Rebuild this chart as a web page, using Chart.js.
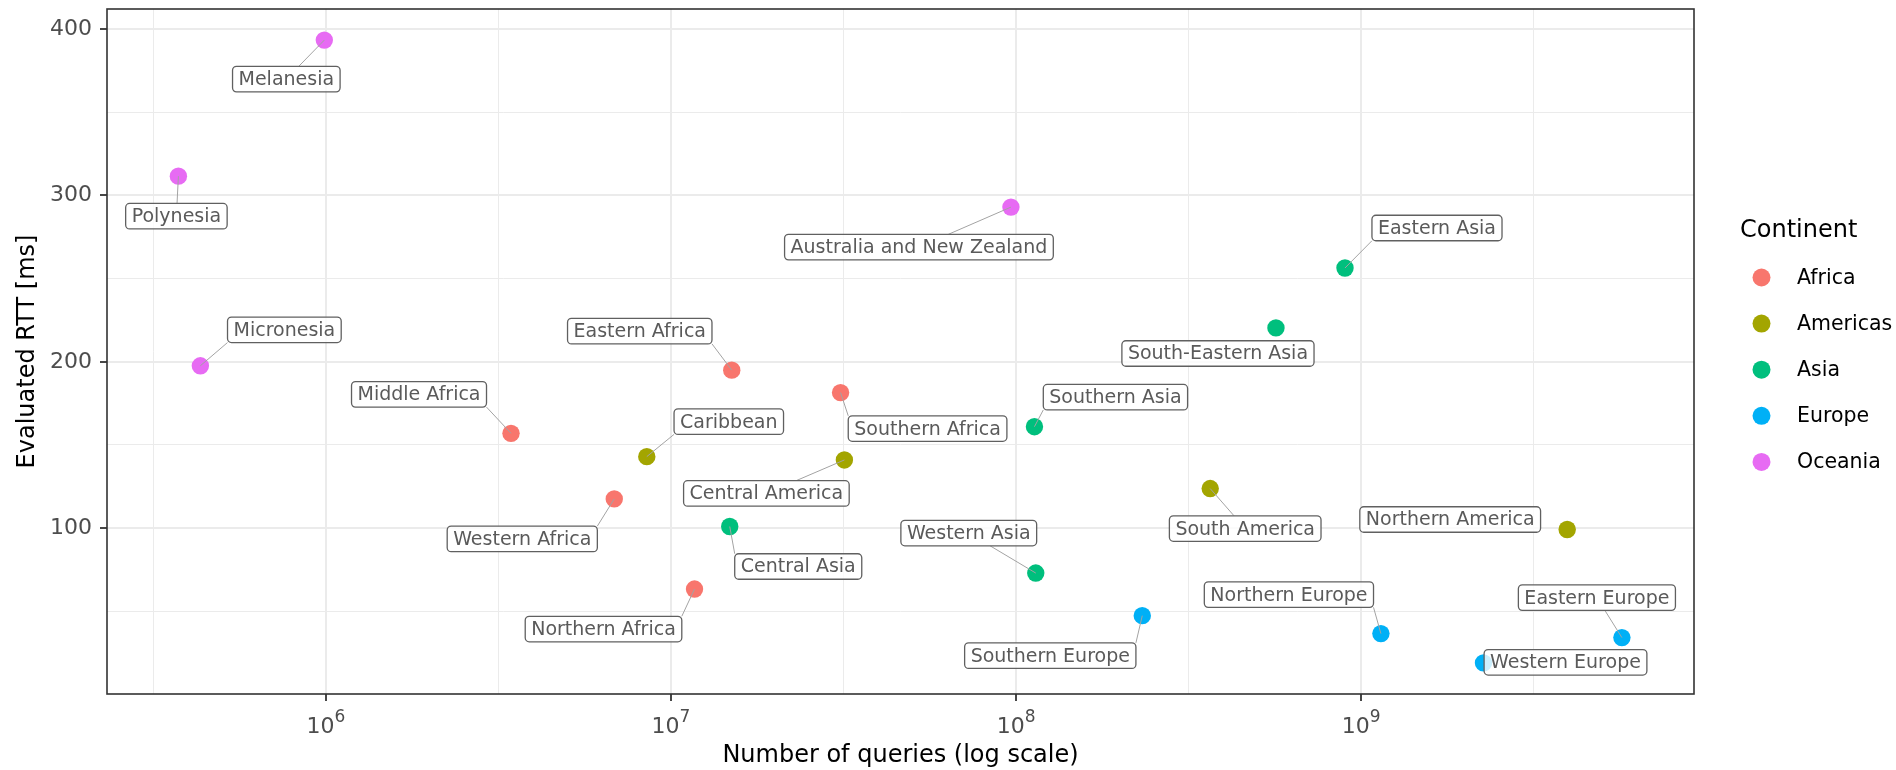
<!DOCTYPE html>
<html>
<head>
<meta charset="utf-8">
<script src="https://cdn.jsdelivr.net/npm/chart.js@4.4.1/dist/chart.umd.min.js"></script>
<style>
  html, body { margin: 0; padding: 0; background: #fff; }
  #chart { display: block; }
</style>
</head>
<body>
<canvas id="chart" width="1896" height="770"></canvas>
<script>
// =====================
// Data
// =====================
const continents = ['Africa', 'Americas', 'Asia', 'Europe', 'Oceania'];
const continentColors = ['#F8766D', '#A3A500', '#00BF7D', '#00B0F6', '#E76BF3'];

const regions = [
  'Eastern Africa', 'Middle Africa', 'Northern Africa', 'Southern Africa', 'Western Africa',
  'Caribbean', 'Central America', 'Northern America', 'South America',
  'Central Asia', 'Eastern Asia', 'South-Eastern Asia', 'Southern Asia', 'Western Asia',
  'Eastern Europe', 'Northern Europe', 'Southern Europe', 'Western Europe',
  'Australia and New Zealand', 'Melanesia', 'Micronesia', 'Polynesia'
];
const regionContinent = [
  'Africa', 'Africa', 'Africa', 'Africa', 'Africa',
  'Americas', 'Americas', 'Americas', 'Americas',
  'Asia', 'Asia', 'Asia', 'Asia', 'Asia',
  'Europe', 'Europe', 'Europe', 'Europe',
  'Oceania', 'Oceania', 'Oceania', 'Oceania'
];
const queries = [
  1.50e7, 3.44e6, 1.17e7, 3.10e7, 6.85e6,
  8.51e6, 3.18e7, 3.95e9, 3.65e8,
  1.48e7, 8.97e8, 5.66e8, 1.13e8, 1.14e8,
  5.69e9, 1.14e9, 2.32e8, 2.26e9,
  9.66e7, 9.9e5, 4.33e5, 3.74e5
];
const rttMs = [
  195, 157, 63.4, 181.5, 117.6,
  143, 141, 99.2, 123.8,
  101, 256.4, 220.4, 161, 73,
  34.2, 36.6, 47.4, 19,
  293, 393.4, 197.6, 311.6
];

const xTickValues = [1e6, 1e7, 1e8, 1e9];
const yTickValues = [100, 200, 300, 400];

// label placement (pixel offset of label centre from its point), like ggrepel output
const labelOffsets = [
  [-92, -39], [-92, -39], [-91, 40], [87, 36], [-92, 40],
  [82, -35], [-78, 33.5], [-117, -10], [35, 40],
  [68.5, 40], [92, -40], [-58, 25.6], [81, -29.5], [-67, -40],
  [-25, -40], [-92, -39], [-92, 40], [82, -0.6],
  [-92, 40], [-38, 39], [84, -36], [-2, 40]
];
const noSegment = ['Northern America', 'South-Eastern Asia', 'Western Europe'];

const FONT = "'DejaVu Sans', sans-serif";

const datasets = continents.map((c, ci) => ({
  label: c,
  data: regions
    .map((r, i) => ({ x: queries[i], y: rttMs[i], c: regionContinent[i] }))
    .filter(p => p.c === c),
  backgroundColor: continentColors[ci],
  borderWidth: 0,
  pointRadius: 8.7,
  pointHoverRadius: 8.7
}));

// where the repel segment meets the label box
function segmentEnd(px, py, cx, cy, hw, hh) {
  const dx = px - cx, dy = py - cy;
  if (Math.abs(dx) <= hw) {
    // along the line to the label centre
    const t = Math.min(hw / Math.max(Math.abs(dx), 1e-6), hh / Math.max(Math.abs(dy), 1e-6));
    return [cx + dx * t, cy + dy * t];
  }
  // nearest point of the box
  return [
    Math.min(Math.max(px, cx - hw), cx + hw),
    Math.min(Math.max(py, cy - hh), cy + hh)
  ];
}

// =====================
// Plugin: panel, labels, legend, x tick labels
// =====================
const decorations = {
  id: 'decorations',
  afterDatasetsDraw(chart) {
    const ctx = chart.ctx;
    const xs = chart.scales.x, ys = chart.scales.y;
    ctx.save();
    ctx.font = `19px ${FONT}`;
    regions.forEach((name, i) => {
      const px = xs.getPixelForValue(queries[i]);
      const py = ys.getPixelForValue(rttMs[i]);
      const [dx, dy] = labelOffsets[i];
      const cx = px + dx, cy = py + dy;
      const w = ctx.measureText(name).width + 12;
      const h = 25.5;
      if (!noSegment.includes(name)) {
        const [ex, ey] = segmentEnd(px, py, cx, cy, w / 2, h / 2);
        ctx.beginPath();
        ctx.moveTo(px, py);
        ctx.lineTo(ex, ey);
        ctx.strokeStyle = '#a3a3a3';
        ctx.lineWidth = 1;
        ctx.stroke();
      }
      ctx.beginPath();
      ctx.roundRect(cx - w / 2, cy - h / 2, w, h, 4);
      ctx.fillStyle = 'rgba(255,255,255,0.8)';
      ctx.fill();
      ctx.strokeStyle = '#606060';
      ctx.lineWidth = 1.3;
      ctx.stroke();
      ctx.fillStyle = '#5a5a5a';
      ctx.textAlign = 'center';
      ctx.textBaseline = 'middle';
      ctx.fillText(name, cx, cy + 1);
    });
    ctx.restore();
  },
  afterDraw(chart) {
    const ctx = chart.ctx;
    const area = chart.chartArea;
    const xs = chart.scales.x;
    ctx.save();

    // panel border
    ctx.strokeStyle = '#333333';
    ctx.lineWidth = 1.6;
    ctx.strokeRect(area.left, area.top, area.right - area.left, area.bottom - area.top);

    // x tick labels as 10^n
    ctx.fillStyle = '#4d4d4d';
    ctx.textBaseline = 'alphabetic';
    ctx.textAlign = 'left';
    xTickValues.forEach(v => {
      const x = xs.getPixelForValue(v);
      const exp = String(Math.round(Math.log10(v)));
      ctx.font = `22px ${FONT}`;
      const wb = ctx.measureText('10').width;
      ctx.font = `17px ${FONT}`;
      const we = ctx.measureText(exp).width;
      const left = x - (wb + we) / 2;
      ctx.font = `22px ${FONT}`;
      ctx.fillText('10', left, area.bottom + 39);
      ctx.font = `17px ${FONT}`;
      ctx.fillText(exp, left + wb, area.bottom + 28);
    });

    // legend
    const lx = area.right + 46;
    ctx.fillStyle = '#000';
    ctx.textBaseline = 'middle';
    ctx.font = `24px ${FONT}`;
    ctx.fillText('Continent', lx, 231);
    ctx.font = `20.5px ${FONT}`;
    continents.forEach((c, i) => {
      const y = 277.5 + i * 46.1;
      ctx.beginPath();
      ctx.arc(lx + 21.5, y, 9, 0, Math.PI * 2);
      ctx.fillStyle = continentColors[i];
      ctx.fill();
      ctx.fillStyle = '#000';
      ctx.fillText(c, lx + 57, y + 1);
    });
    ctx.restore();
  }
};

const gridColor = ctx => '#ebebeb';
const gridWidth = ctx => (ctx.tick && ctx.tick.minor) ? 1 : 2;
const tickColor = ctx => (ctx.tick && ctx.tick.minor) ? 'rgba(0,0,0,0)' : '#333333';

new Chart(document.getElementById('chart').getContext('2d'), {
  type: 'scatter',
  data: { datasets },
  options: {
    responsive: false,
    animation: false,
    devicePixelRatio: 1,
    layout: { padding: { left: 0, top: 9, right: 202, bottom: 0 } },
    plugins: {
      legend: { display: false },
      tooltip: { enabled: false }
    },
    scales: {
      x: {
        type: 'logarithmic',
        min: Math.pow(10, 5.366),
        max: Math.pow(10, 9.964),
        afterBuildTicks: scale => {
          const t = [];
          [1e5, ...xTickValues, 1e10].forEach(v => {
            t.push({ value: v, minor: false });
            t.push({ value: v * Math.sqrt(10), minor: true });
          });
          scale.ticks = t.filter(k => k.value >= scale.min && k.value <= scale.max);
        },
        afterFit: scale => {
          scale.height = 76;
          scale.paddingLeft = 0;
          scale.paddingRight = 0;
        },
        border: { display: false },
        grid: { color: gridColor, lineWidth: gridWidth, tickColor: tickColor, tickLength: 7, tickWidth: 1.8 },
        ticks: { autoSkip: false, maxRotation: 0, callback: () => '' },
        title: {
          display: true,
          text: 'Number of queries (log scale)',
          color: '#000',
          font: { family: FONT, size: 24, lineHeight: 1.2 },
          padding: { top: 0, bottom: 0 }
        }
      },
      y: {
        type: 'linear',
        min: 0.3,
        max: 412.1,
        afterBuildTicks: scale => {
          const t = [];
          [0, ...yTickValues].forEach(v => {
            t.push({ value: v, minor: false });
            t.push({ value: v + 50, minor: true });
          });
          scale.ticks = t.filter(k => k.value >= scale.min && k.value <= scale.max);
        },
        afterFit: scale => {
          scale.width = 107;
          scale.paddingTop = 0;
          scale.paddingBottom = 0;
        },
        border: { display: false },
        grid: { color: gridColor, lineWidth: gridWidth, tickColor: tickColor, tickLength: 7, tickWidth: 1.8 },
        ticks: {
          autoSkip: false,
          padding: 8,
          color: '#4d4d4d',
          font: { family: FONT, size: 22 },
          callback: (value, i, ticks) => ticks[i].minor ? '' : String(value)
        },
        title: {
          display: true,
          text: 'Evaluated RTT [ms]',
          color: '#000',
          font: { family: FONT, size: 24, lineHeight: 1.2 },
          padding: { top: 13, bottom: 0 }
        }
      }
    }
  },
  plugins: [decorations]
});
</script>
</body>
</html>
